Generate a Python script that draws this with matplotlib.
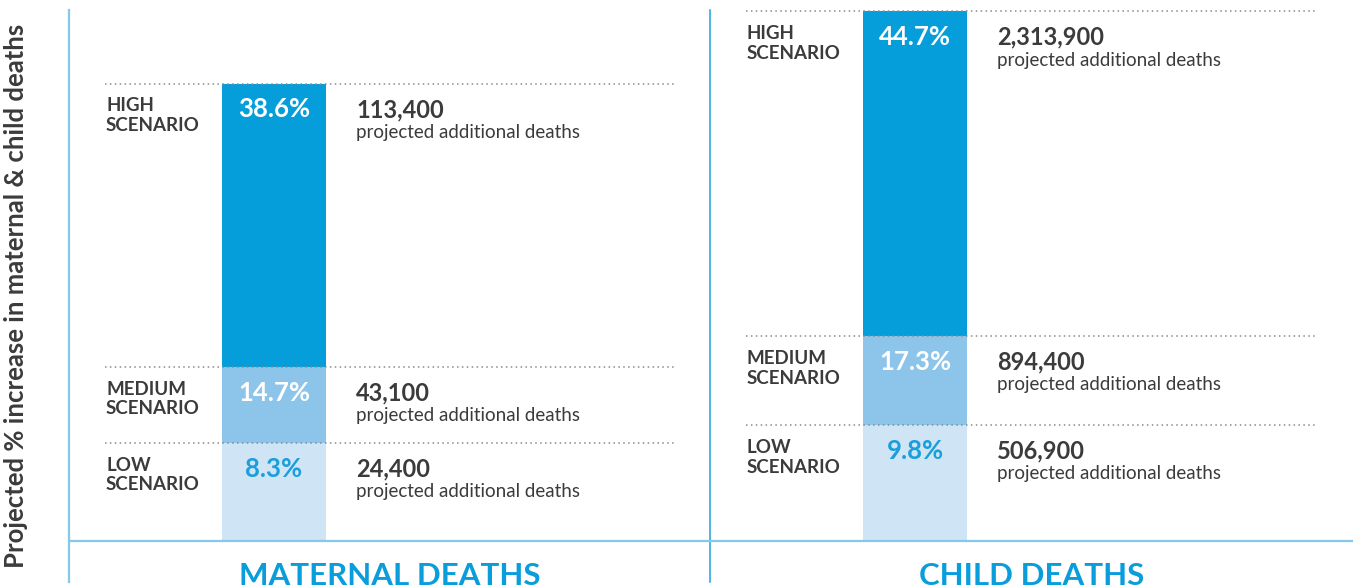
import matplotlib
matplotlib.use("Agg")
import matplotlib.pyplot as plt
from matplotlib.lines import Line2D

plt.rcParams['font.family'] = ['Lato', 'DejaVu Sans']

# data
scenarios = ['HIGH\nSCENARIO', 'MEDIUM\nSCENARIO', 'LOW\nSCENARIO']
maternal_pct = [38.6, 14.7, 8.3]
maternal_deaths = ['113,400', '43,100', '24,400']
child_pct = [44.7, 17.3, 9.8]
child_deaths = ['2,313,900', '894,400', '506,900']
panel_titles = ['MATERNAL DEATHS', 'CHILD DEATHS']

bar_colors = ['#069ddb', '#8cc4ea', '#cfe4f5']
pct_colors = ['white', 'white', '#1a9fdc']
dark = '#3b3b3b'
blue = '#0a9ddb'

W, H = 1353, 588
fig = plt.figure(figsize=(W / 100, H / 100), dpi=100)

def fx(px):
    return px / W

def fy(py):
    return 1 - py / H

base_px = 541
px_per_unit = 11.85

panels = [(69, 710, maternal_pct, maternal_deaths, panel_titles[0]),
          (710, 1353, child_pct, child_deaths, panel_titles[1])]

for x0, x1, pcts, deaths, title in panels:
    ax = fig.add_axes([fx(x0), fy(base_px), fx(x1 - x0), base_px / H])
    ax.set_xlim(0, x1 - x0)
    ax.set_ylim(0, base_px / px_per_unit)
    ax.axis('off')

    # overlapping bars, largest first
    for val, col in zip(pcts, bar_colors):
        ax.bar(153, val, width=104, align='edge', color=col, zorder=2)

    for val, lab, pct, pc, d in zip(pcts, scenarios, pcts, pct_colors, deaths):
        ax.hlines(val, 36, 606, colors='#8a8a8a', linestyles=(0, (1, 2.2)),
                  linewidth=1.1, zorder=3)
        ax.annotate(lab, (37, val), xytext=(0, -10), textcoords='offset points',
                    ha='left', va='top', fontsize=13.5, fontweight='bold',
                    color=dark, linespacing=1.2)
        ax.annotate(f'{pct}%', (205, val), xytext=(0, -10), textcoords='offset points',
                    ha='center', va='top', fontsize=18.5, fontweight='bold',
                    color=pc, zorder=4)
        ax.annotate(d, (287, val), xytext=(0, -10.5), textcoords='offset points',
                    ha='left', va='top', fontsize=17, fontweight='bold', color=dark)
        ax.annotate('projected additional deaths', (287, val), xytext=(0, -29),
                    textcoords='offset points', ha='left', va='top',
                    fontsize=13.5, color=dark)

    ax.annotate(title, (0.5, 0), xycoords='axes fraction', xytext=(0, -15),
                textcoords='offset points', ha='center', va='top',
                fontsize=22.5, fontweight='bold', color=blue, annotation_clip=False)

# frame lines
fig.add_artist(Line2D([fx(69), fx(69)], [fy(10), fy(582)], color='#86c8ea', lw=1.6))
fig.add_artist(Line2D([fx(710), fx(710)], [fy(10), fy(582)], color='#1fa2de', lw=1.1))
fig.add_artist(Line2D([fx(69), fx(1353)], [fy(541), fy(541)], color='#86c8ea', lw=1.6))

fig.text(fx(16), fy(296), 'Projected % increase in maternal & child deaths',
         rotation=90, ha='center', va='center', fontsize=18.5, fontweight='bold',
         color=dark)

fig.savefig('out.png', dpi=100, facecolor='white')
